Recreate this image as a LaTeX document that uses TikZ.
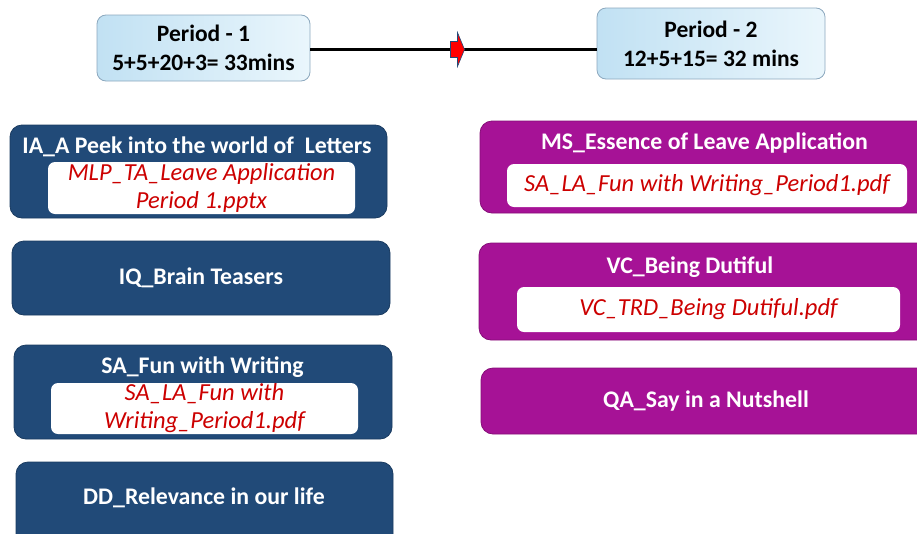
\documentclass[tikz,border=0pt]{standalone}
\usepackage{fontspec}
\setmainfont{Carlito}
\usepackage{tikz}
\usetikzlibrary{positioning,decorations.markings}

\definecolor{navybox}{RGB}{33,74,120}
\definecolor{plumbox}{RGB}{166,18,150}
\definecolor{filered}{RGB}{204,0,0}
\definecolor{periodedge}{RGB}{140,168,190}

\tikzstyle{period} = [draw=periodedge, line width=0.8pt, rounded corners=9pt, left color={rgb,255:red,193;green,225;blue,243}, right color={rgb,255:red,234;green,246;blue,252}, font=\fontsize{23.5}{29}\selectfont\bfseries, align=center, inner sep=0pt]
\tikzstyle{bluebox} = [draw=navybox!80!black, line width=0.8pt, fill=navybox, rounded corners=12pt, text=white, font=\fontsize{23.8}{28}\selectfont\bfseries, inner sep=0pt]
\tikzstyle{plumbox} = [draw=plumbox!80!black, line width=0.8pt, fill=plumbox, rounded corners=12pt, text=white, font=\fontsize{23.8}{28}\selectfont\bfseries, inner sep=0pt]
\tikzstyle{title} = [text=white, font=\fontsize{23.8}{28}\selectfont\bfseries, inner sep=0pt]
\tikzstyle{filebox} = [fill=white, rounded corners=7pt, text=filered, font=\fontsize{24.5}{28}\selectfont\itshape, align=center, inner sep=0pt]
\tikzstyle{link} = [draw, line width=3.4pt, decoration={markings, mark=at position 0.507 with {\filldraw[fill=red, draw=navybox, line width=0.6pt] (-5pt,-8pt) -- (2pt,-8pt) -- (2pt,-17pt) -- (9pt,0pt) -- (2pt,17pt) -- (2pt,8pt) -- (-5pt,8pt) -- cycle;}}, postaction=decorate]

\begin{document}
\begin{tikzpicture}[x=1pt,y=-1pt]
    \useasboundingbox (0,0) rectangle (917,533);
    \clip (0,0) rectangle (917,533);

    % periods
    \node[period, minimum width=213pt, minimum height=66pt] (p1) at (203.5,48) {Period - 1\\5+5+20+3= 33mins};
    \node[period, minimum width=228pt, minimum height=71pt] (p2) at (711,43.5) {Period - 2\\12+5+15= 32 mins};
    \path[link] ([yshift=-1.5pt]p1.east) -- ([yshift=-1.5pt]p1.east -| p2.west);

    % period 1
    \node[bluebox, minimum width=377pt, minimum height=93pt] (ia) at (198.5,171.5) {};
    \node[title] (iatitle) at (197,147) {IA\_A Peek into the world of~~Letters};
    \node[filebox, minimum width=307pt, minimum height=52pt] (iafile) at (201.5,188) {MLP\_TA\_Leave Application\\Period 1.pptx};

    \node[bluebox, minimum width=378pt, minimum height=74pt] (iq) at (201,278) {IQ\_Brain Teasers};

    \node[bluebox, minimum width=378pt, minimum height=94pt] (sa) at (203,392) {};
    \node[title] (satitle) at (202.5,367) {SA\_Fun with Writing};
    \node[filebox, minimum width=307pt, minimum height=51pt] (safile) at (204.5,408.5) {SA\_LA\_Fun with\\Writing\_Period1.pdf};

    \node[bluebox, minimum width=377pt, minimum height=86pt] (dd) at (204.5,505) {};
    \node[title] (ddtitle) at (204,498) {DD\_Relevance in our life};

    % period 2
    \node[plumbox, minimum width=450pt, minimum height=92pt] (ms) at (705,167) {};
    \node[title] (mstitle) at (704.5,143) {MS\_Essence of Leave Application};
    \node[filebox, minimum width=400pt, minimum height=43pt] (msfile) at (707,185.5) {SA\_LA\_Fun with Writing\_Period1.pdf};

    \node[plumbox, minimum width=450pt, minimum height=97pt] (vc) at (704,291.5) {};
    \node[title] (vctitle) at (690,267) {VC\_Being Dutiful};
    \node[filebox, minimum width=383pt, minimum height=45pt] (vcfile) at (708.5,309.5) {VC\_TRD\_Being Dutiful.pdf};

    \node[plumbox, minimum width=450pt, minimum height=66pt] (qa) at (706,401) {QA\_Say in a Nutshell};

\end{tikzpicture}
\end{document}
